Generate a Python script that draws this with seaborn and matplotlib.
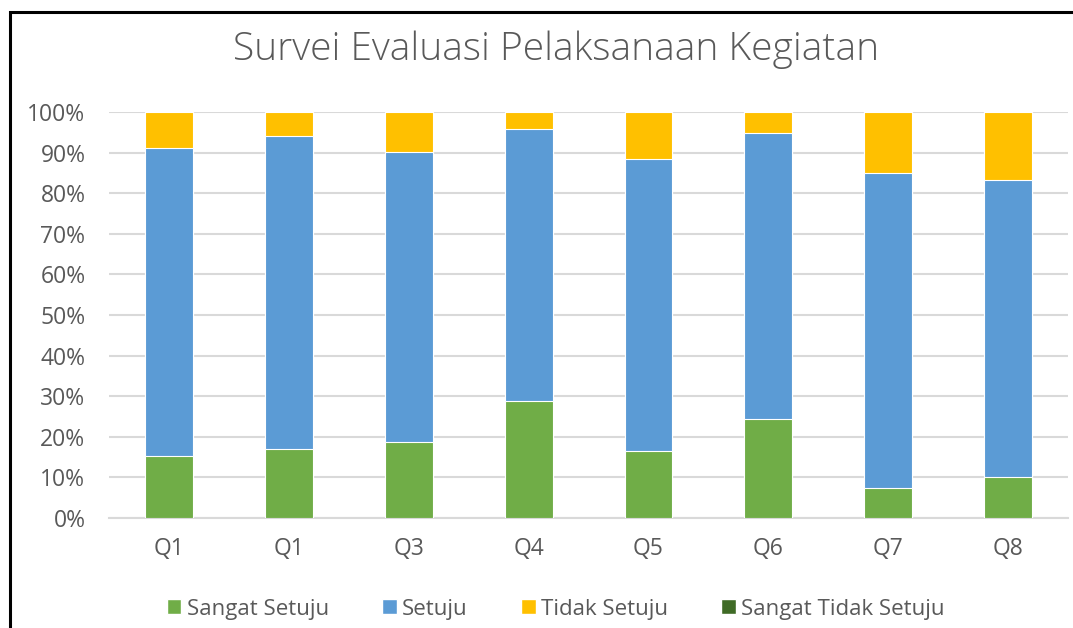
import numpy as np
import pandas as pd
import seaborn as sns
import matplotlib.pyplot as plt
from matplotlib.patches import Patch, Rectangle

questions = ["Q1", "Q1", "Q3", "Q4", "Q5", "Q6", "Q7", "Q8"]
sangat_setuju = [15.2, 16.9, 18.6, 28.7, 16.4, 24.3, 7.4, 10.1]
setuju = [76.0, 77.2, 71.5, 67.0, 72.0, 70.4, 77.6, 73.2]
tidak_setuju = [8.8, 5.9, 9.9, 4.3, 11.6, 5.3, 15.0, 16.7]
sangat_tidak_setuju = [0, 0, 0, 0, 0, 0, 0, 0]

series = ["Sangat Setuju", "Setuju", "Tidak Setuju", "Sangat Tidak Setuju"]
colors = ["#70ad47", "#5b9bd5", "#ffc000", "#3f6b26"]

sns.set_theme(style="white")
plt.rcParams["font.family"] = ["Open Sans", "DejaVu Sans"]

df = pd.DataFrame({
    "pos": [str(i) for i in range(len(questions))],
    "Sangat Setuju": sangat_setuju,
    "Setuju": setuju,
    "Tidak Setuju": tidak_setuju,
    "Sangat Tidak Setuju": sangat_tidak_setuju,
})
cum = df[series].cumsum(axis=1)

fig = plt.figure(figsize=(10.73, 6.28), dpi=100)
ax = fig.add_axes([0.1016, 0.1752, 0.8938, 0.6465])

# draw from top of stack down so lower segments overlay
for name, col in reversed(list(zip(series, colors))):
    sns.barplot(x=df["pos"], y=cum[name], color=col, width=0.4,
                edgecolor="white", linewidth=0.8, saturation=1, ax=ax,
                zorder=3)

ax.set_ylim(0, 100)
ax.set_xlim(-0.5, len(questions) - 0.5)
ax.set_yticks(np.arange(0, 101, 10))
ax.set_yticklabels([f"{v}%" for v in range(0, 101, 10)])
ax.set_xticks(range(len(questions)))
ax.set_xticklabels(questions)
ax.set_xlabel("")
ax.set_ylabel("")
ax.tick_params(axis="both", colors="#595959", labelsize=16.5, length=0)
ax.tick_params(axis="y", pad=17)
ax.tick_params(axis="x", pad=14)
ax.yaxis.grid(True, color="#d9d9d9", linewidth=1.5, zorder=0)
ax.set_axisbelow(True)
for s in ["left", "right", "top"]:
    ax.spines[s].set_visible(False)
ax.spines["bottom"].set_color("#d9d9d9")
ax.spines["bottom"].set_linewidth(1.5)

fig.text(0.518, 0.921, "Survei Evaluasi Pelaksanaan Kegiatan", ha="center",
         va="center", fontsize=28, color="#595959", fontweight="light")

handles = [Patch(facecolor=c, label=n) for n, c in zip(series, colors)]
fig.legend(handles=handles, loc="center", bbox_to_anchor=(0.518, 0.03),
           ncol=4, frameon=False, fontsize=16, handlelength=0.65,
           handleheight=0.65, handletextpad=0.25, columnspacing=2.4,
           labelcolor="#595959")

# outer chart frame (left and top edges visible)
fig.add_artist(Rectangle((0.0093, -0.05), 1.05, 1.031, transform=fig.transFigure,
                         fill=False, edgecolor="black", linewidth=2.2))

fig.savefig("out.png", dpi=100)
